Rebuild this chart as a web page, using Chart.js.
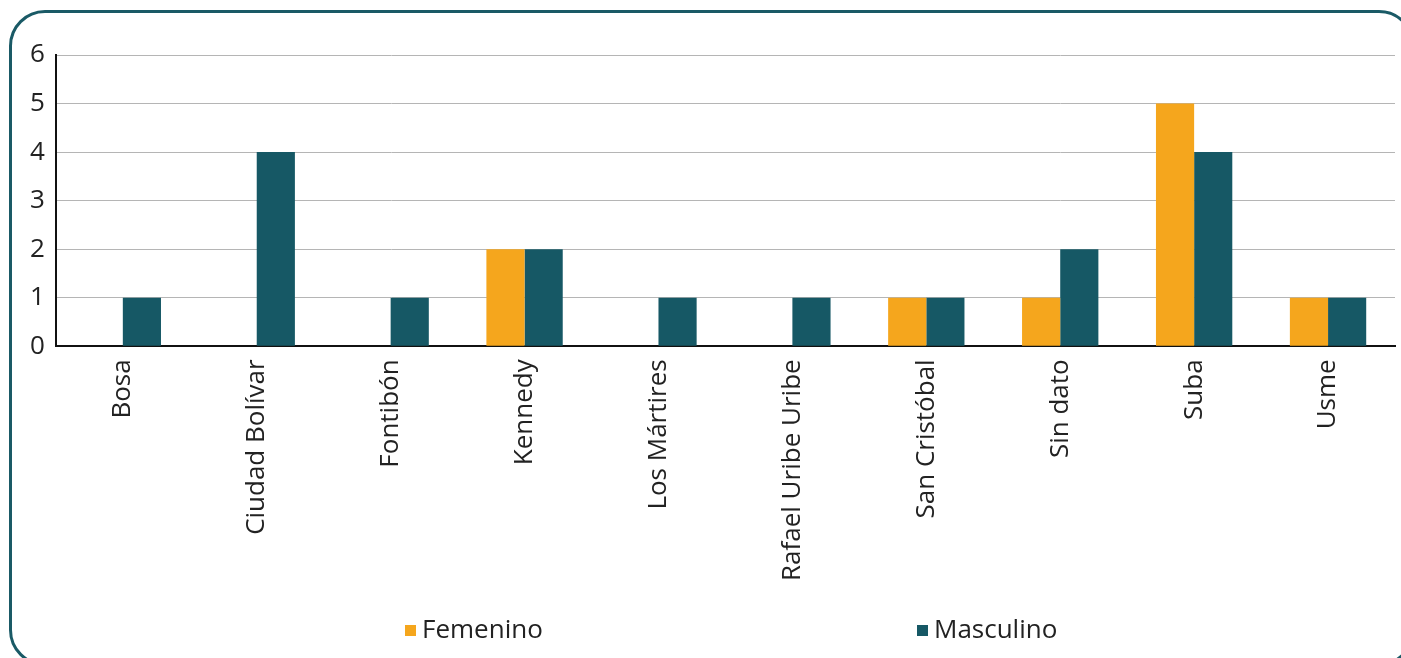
<!DOCTYPE html>
<html>
<head>
<meta charset="utf-8">
<script src="https://cdn.jsdelivr.net/npm/chart.js@4"></script>
<style>
  html, body { margin: 0; padding: 0; background: #fff; overflow: hidden; }
  #wrap { position: relative; width: 1401px; height: 658px; overflow: hidden; }
  #frame {
    position: absolute; left: 9px; top: 10px; width: 1406px; height: 656px;
    border: 3px solid #1a5a66; border-radius: 36px; box-sizing: border-box;
  }
  canvas { position: absolute; left: 0; top: 0; }
  #leyenda {
    position: absolute; top: 610px; left: 0; width: 1401px; height: 36px;
    font-family: 'Open Sans', 'Noto Sans', sans-serif; font-size: 26px; color: #222;
  }
  .item { position: absolute; top: 0; line-height: 36px; white-space: nowrap; }
  .item span { display: inline-block; width: 11px; height: 11px; margin-right: 6px; vertical-align: 2px; }
</style>
</head>
<body>
<div id="wrap">
  <div id="frame"></div>
  <canvas id="myChart" width="1401" height="658"></canvas>
  <div id="leyenda"></div>
</div>
<script>
// localidades
const categorias = ['Bosa', 'Ciudad Bolívar', 'Fontibón', 'Kennedy', 'Los Mártires',
  'Rafael Uribe Uribe', 'San Cristóbal', 'Sin dato', 'Suba', 'Usme'];
const femenino = [0, 0, 0, 2, 0, 0, 1, 1, 5, 1];
const masculino = [1, 4, 1, 2, 1, 1, 1, 2, 4, 1];
const ticksY = [0, 1, 2, 3, 4, 5, 6];

const fuente = { family: "'Open Sans', 'Noto Sans', sans-serif", size: 26 };

const ctx = document.getElementById('myChart').getContext('2d');
const myChart = new Chart(ctx, {
    type: 'bar',
    data: {
        labels: categorias,
        datasets: [{
            label: 'Femenino',
            data: femenino,
            backgroundColor: '#f5a61d',
            barPercentage: 1,
            categoryPercentage: 0.57
        }, {
            label: 'Masculino',
            data: masculino,
            backgroundColor: '#165865',
            barPercentage: 1,
            categoryPercentage: 0.57
        }]
    },
    options: {
        responsive: false,
        animation: false,
        layout: { padding: { left: 19, right: 6, top: 55, bottom: 64 } },
        plugins: {
            tooltip: { enabled: false },
            legend: { display: false }
        },
        scales: {
            x: {
                grid: { display: false, drawTicks: false },
                border: { color: '#111', width: 2 },
                ticks: {
                    color: '#222',
                    font: fuente,
                    maxRotation: 90,
                    minRotation: 90,
                    padding: 13
                }
            },
            y: {
                min: 0,
                max: 6,
                afterBuildTicks: function(axis) {
                    axis.ticks = ticksY.map(v => ({ value: v }));
                },
                grid: { color: '#b5b5b5', lineWidth: 1, drawTicks: false },
                border: { color: '#111', width: 2 },
                ticks: {
                    color: '#222',
                    font: fuente,
                    padding: 11,
                    autoSkip: false
                }
            }
        }
    }
});

// leyenda abajo, separada como en el original
const posLeyenda = [405, 917];
const leyenda = document.getElementById('leyenda');
myChart.data.datasets.forEach(function(ds, i) {
    const div = document.createElement('div');
    div.className = 'item';
    div.style.left = posLeyenda[i] + 'px';
    div.innerHTML = '<span style="background:' + ds.backgroundColor + '"></span>' + ds.label;
    leyenda.appendChild(div);
});
</script>
</body>
</html>
